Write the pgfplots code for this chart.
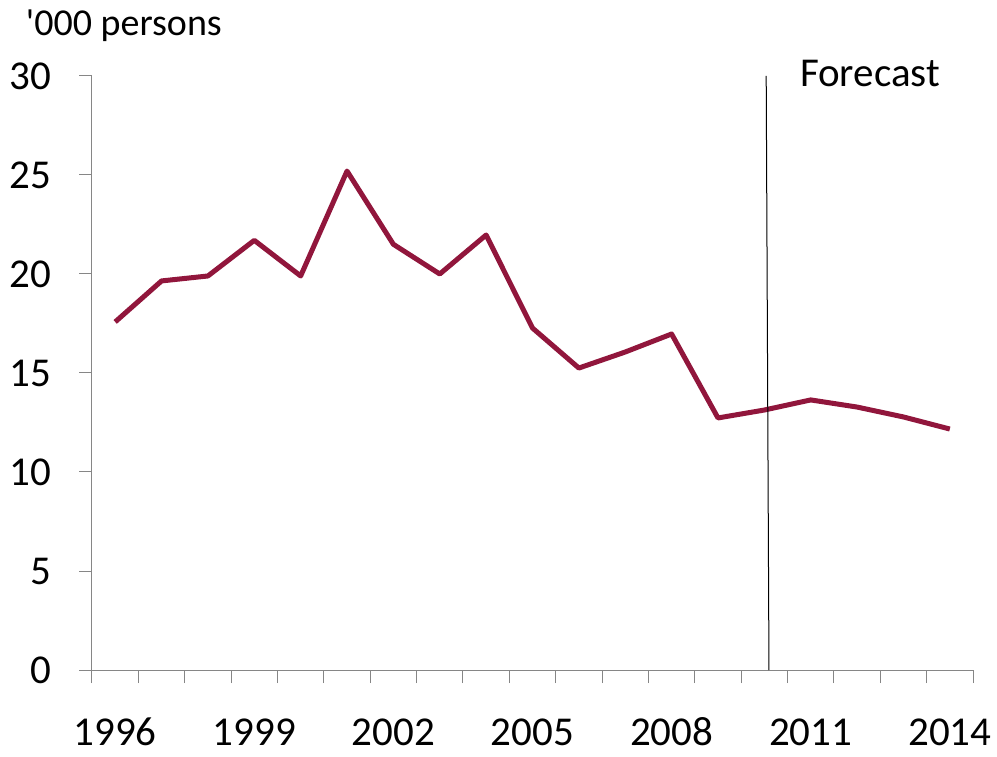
\documentclass[border=0pt]{standalone}
\usepackage{fontspec}
\setmainfont{Carlito}
\usepackage{pgfplots}
\pgfplotsset{compat=1.18}
\definecolor{maroon}{RGB}{145,22,60}
\definecolor{axgray}{RGB}{134,134,134}
\begin{document}
\fontsize{41}{48}\selectfont
\begin{tikzpicture}
\useasboundingbox (0,0) rectangle (997pt,756pt);
\begin{axis}[
  at={(92pt,86pt)}, anchor=south west,
  scale only axis, width=881pt, height=594pt,
  xmin=-0.5, xmax=18.5, ymin=0, ymax=30,
  axis lines*=left,
  axis line style={axgray, line width=1pt},
  xtick={0,3,...,18},
  xticklabels={1996,1999,2002,2005,2008,2011,2014},
  minor xtick={-0.5,0.5,...,18.5},
  major x tick style={draw=none},
  minor x tick style={axgray, line width=1pt},
  minor tick length=13pt,
  ytick={0,5,...,30},
  y tick style={axgray, line width=1pt},
  major tick length=13pt,
  tick align=outside,
  tick pos=left,
  xticklabel style={inner sep=0pt, text height=28pt, text depth=0pt, anchor=north, yshift=-34pt},
  yticklabel style={xshift=-14pt},
  /pgf/number format/assume math mode=true,
  ticklabel style={font=\fontsize{41}{48}\selectfont},
  clip=false,
]
\addplot[maroon, line width=5pt, line join=round] coordinates {
(0,17.58) (1,19.65) (2,19.9) (3,21.7) (4,19.9) (5,25.2) (6,21.5) (7,20.0)
(8,21.97) (9,17.27) (10,15.25) (11,16.06) (12,16.97) (13,12.73) (14,13.13)
(15,13.64) (16,13.28) (17,12.78) (18,12.17)};
\addplot[black, line width=1pt] coordinates {(14.04,30) (14.1,0)};
\node[anchor=center] at (axis cs:16.28,30.15) {Forecast};
\end{axis}
\node[anchor=base west,font=\fontsize{38}{44}\selectfont] at (12pt,720pt) {\textquotesingle000 persons};
\end{tikzpicture}
\end{document}
